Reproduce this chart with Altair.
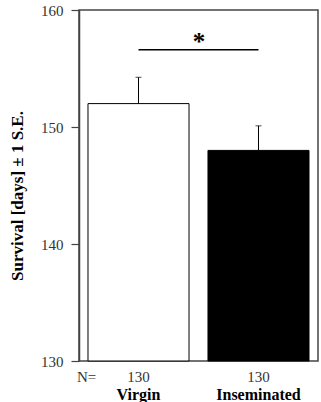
import altair as alt
import pandas as pd

groups = ["Virgin", "Inseminated"]
means = [152.0, 148.0]
se = [2.25, 2.1]
n_counts = [130, 130]
fills = ["white", "black"]
sig_y = [156.6]
star_y = [157.3]

df = pd.DataFrame({
    "group": groups,
    "mean": means,
    "upper": [m + s for m, s in zip(means, se)],
    "fill": fills,
})
sig = pd.DataFrame({"x": [groups[0]], "x2": [groups[1]], "y": sig_y})
star = pd.DataFrame({"x": [groups[0]], "y": star_y, "t": ["*"]})
nlab = pd.DataFrame({"t": ["N="]})

W, H = 239, 351
SERIF = "Liberation Serif"
GRAY = "#444"

xscale = alt.Scale(domain=groups, paddingInner=0.158, paddingOuter=0.075)
yscale = alt.Scale(domain=[130, 160], nice=False, zero=False)

label_expr = " : ".join(
    [f"datum.value == '{g}' ? '{n}'" for g, n in zip(groups, n_counts)] + ["''"]
)

bars = alt.Chart(df).mark_bar(stroke="black", strokeWidth=1).encode(
    x=alt.X("group:N", scale=xscale, sort=groups,
            axis=alt.Axis(title=None, labelExpr=label_expr, ticks=False, domain=False,
                          labelAngle=0, labelFont=SERIF, labelFontSize=15,
                          labelColor="#333", labelPadding=8, orient="bottom")),
    y=alt.Y("mean:Q", scale=yscale,
            axis=alt.Axis(values=[130, 140, 150, 160], title="Survival [days] ± 1 S.E.",
                          tickSize=8, tickColor=GRAY, domainColor=GRAY, domainWidth=1.5,
                          tickWidth=1.2, labelFont=SERIF, labelFontSize=15,
                          labelColor="#333", labelPadding=8, grid=False,
                          titleFont=SERIF, titleFontSize=17, titleFontWeight="bold",
                          titleColor="black", titlePadding=14, titleY=H / 2 + 10)),
    y2=alt.datum(130),
    fill=alt.Fill("fill:N", scale=None),
)

stems = alt.Chart(df).mark_rule(color="black", strokeWidth=1).encode(
    x=alt.X("group:N", scale=xscale, sort=groups,
            axis=alt.Axis(title=None, ticks=False, domain=False, labelAngle=0,
                          labelFont=SERIF, labelFontSize=16, labelFontWeight="bold",
                          labelColor="black", labelPadding=7, offset=18, orient="bottom")),
    y=alt.Y("mean:Q", scale=yscale),
    y2="upper:Q",
)

caps = alt.Chart(df).mark_tick(color="black", size=6, thickness=1, orient="horizontal").encode(
    x=alt.X("group:N", scale=xscale, sort=groups, axis=None),
    y=alt.Y("upper:Q", scale=yscale),
)

sig_line = alt.Chart(sig).mark_rule(color="black", strokeWidth=1.6).encode(
    x=alt.X("x:N", scale=xscale, axis=None),
    x2="x2:N",
    y=alt.Y("y:Q", scale=yscale),
)

star_txt = alt.Chart(star).mark_text(font=SERIF, fontSize=25, fontWeight="bold",
                                     baseline="middle", align="center", color="black",
                                     dx=10).encode(
    x=alt.X("x:N", scale=xscale, axis=None, bandPosition=1),
    y=alt.Y("y:Q", scale=yscale),
    text="t:N",
)

n_txt = alt.Chart(nlab).mark_text(font=SERIF, fontSize=15, align="left",
                                  baseline="middle", color="#333").encode(
    x=alt.value(-2), y=alt.value(H + 16), text="t:N",
)

chart = alt.layer(bars, stems, caps, sig_line, star_txt, n_txt).resolve_axis(
    x="independent"
).properties(
    width=W, height=H,
    autosize=alt.AutoSizeParams(type="none"),
    padding={"left": 79, "top": 10, "right": 3, "bottom": 41},
    background="white",
).configure_view(stroke=GRAY, strokeWidth=1.5)

chart.save("out.html", embed_options={"renderer": "svg", "actions": False})
